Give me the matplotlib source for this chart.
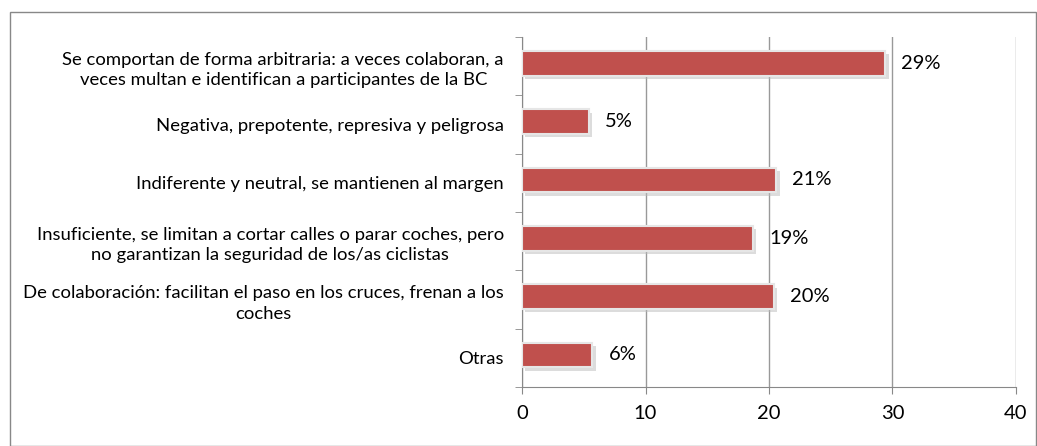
import numpy as np
import matplotlib.pyplot as plt
import matplotlib.patheffects as pe
from matplotlib.patches import Rectangle

# data
categories = ["Se comportan de forma arbitraria: a veces colaboran, a\nveces multan e identifican a participantes de la BC",
              "Negativa, prepotente, represiva y peligrosa",
              "Indiferente y neutral, se mantienen al margen",
              "Insuficiente, se limitan a cortar calles o parar coches, pero\nno garantizan la seguridad de los/as ciclistas",
              "De colaboración: facilitan el paso en los cruces, frenan a los\ncoches",
              "Otras"]
values = [29.4, 5.4, 20.6, 18.7, 20.4, 5.7]
pct_labels = ["29%", "5%", "21%", "19%", "20%", "6%"]
xticks = [0, 10, 20, 30, 40]

plt.rcParams['font.family'] = ['Lato', 'DejaVu Sans']

fig = plt.figure(figsize=(10.37, 4.46), dpi=100)
ax = fig.add_axes([0.5034, 0.1323, 0.4763, 0.7847])

y_pos = np.arange(len(categories))[::-1]
bars = ax.barh(y_pos + 0.05, values, height=0.42, color="#C0504D",
               edgecolor="#E6E6E6", linewidth=1.5, zorder=3)
for b in bars:
    b.set_path_effects([pe.SimplePatchShadow(offset=(2.5, -2.5), shadow_rgbFace="#BBBBBB", alpha=0.5),
                        pe.Normal()])

for y, v, t in zip(y_pos, values, pct_labels):
    ax.text(v + 1.3, y + 0.05, t, va="center", ha="left", fontsize=14.5)

ax.set_xlim(0, 40)
ax.set_ylim(-0.5, len(categories) - 0.5)
ax.set_xticks(xticks)
ax.tick_params(axis="x", labelsize=14.5, length=5, color="#888888", pad=8)
ax.set_yticks(y_pos)
ax.set_yticklabels(categories, fontsize=13.3, linespacing=1.35)
for lbl in ax.get_yticklabels():
    lbl.set_multialignment("center")
ax.tick_params(axis="y", which="major", length=0, pad=13)
ax.set_yticks(np.arange(-0.5, len(categories), 1), minor=True)
ax.tick_params(axis="y", which="minor", length=5, color="#888888")
ax.grid(axis="x", color="#999999", linewidth=1, zorder=0)
ax.set_axisbelow(True)
for s in ["top", "right"]:
    ax.spines[s].set_visible(False)
for s in ["left", "bottom"]:
    ax.spines[s].set_color("#888888")

fig.patches.append(Rectangle((0.0095, 0.0), 0.99, 0.972, transform=fig.transFigure,
                             fill=False, edgecolor="#888888", linewidth=1))

plt.savefig("out.png")
